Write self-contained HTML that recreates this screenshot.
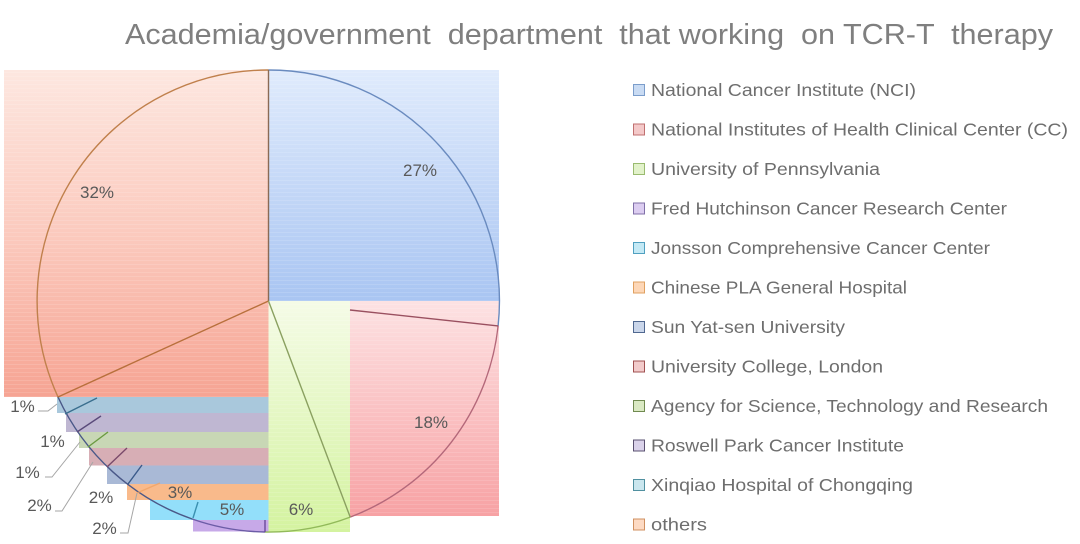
<!DOCTYPE html>
<html><head><meta charset="utf-8"><style>
html,body{margin:0;padding:0;background:#fff;}
svg{display:block;}
text{font-family:"Liberation Sans",sans-serif;white-space:pre;}
</style></head><body>
<svg width="1080" height="544" viewBox="0 0 1080 544" xmlns="http://www.w3.org/2000/svg">
<defs>
<linearGradient id="gBlue" x1="0" y1="0" x2="0" y2="1"><stop offset="0" stop-color="#e0ebfc"/><stop offset="1" stop-color="#a9c5f2"/></linearGradient>
<linearGradient id="gSal" x1="0" y1="0" x2="0" y2="1"><stop offset="0" stop-color="#fde7e0"/><stop offset="0.5" stop-color="#fbcabe"/><stop offset="1" stop-color="#f6a493"/></linearGradient>
<linearGradient id="gPink" x1="0" y1="0" x2="0" y2="1"><stop offset="0" stop-color="#fde2e3"/><stop offset="1" stop-color="#f7a2a4"/></linearGradient>
<linearGradient id="gGreen" x1="0" y1="0" x2="0" y2="1"><stop offset="0" stop-color="#f5fbe7"/><stop offset="1" stop-color="#d4f3a0"/></linearGradient>
<pattern id="stripes" width="8" height="4" patternUnits="userSpaceOnUse"><rect x="0" y="0" width="8" height="1" fill="#ffffff" opacity="0.12"/></pattern>
</defs>
<rect width="1080" height="544" fill="#fff"/>

<text x="125" y="44" font-size="28.5" fill="#7f7f7f" textLength="928" lengthAdjust="spacingAndGlyphs">Academia/government  department  that working  on TCR-T  therapy</text>

<rect x="4" y="70" width="264.5" height="327" fill="url(#gSal)"/>
<rect x="268.5" y="70" width="230.5" height="231" fill="url(#gBlue)"/>
<rect x="350" y="301" width="149" height="215" fill="url(#gPink)"/>
<rect x="268.5" y="301" width="81.5" height="231" fill="url(#gGreen)"/>
<rect x="4" y="70" width="495" height="462" fill="url(#stripes)"/>

<rect x="57" y="397" width="211.5" height="16" fill="#a9c8dc"/>
<rect x="66" y="413" width="202.5" height="19" fill="#bfb7d2"/>
<rect x="79" y="432" width="189.5" height="16" fill="#c8d7b5"/>
<rect x="89" y="448" width="179.5" height="17.5" fill="#d7aeb5"/>
<rect x="107" y="465.5" width="161.5" height="18.5" fill="#a9b9d6"/>
<rect x="127" y="484" width="141.5" height="16" fill="#f9ba8b"/>
<rect x="150" y="500" width="118.5" height="20" fill="#93dffa"/>
<rect x="193" y="520" width="75.5" height="11.5" fill="#c7a9e8"/>

<g fill="none" stroke-width="1.4">
<path d="M268.5,70 A231,231 0 0 1 498.1,325.9" stroke="#6a8bbf"/>
<path d="M498.1,325.9 A231,231 0 0 1 350.2,517.1" stroke="#b4687a"/>
<path d="M350.2,517.1 A231,231 0 0 1 265,532" stroke="#92ba5a"/>
<path d="M265,532 A231,231 0 0 1 192.5,519.1" stroke="#6c5ca6"/>
<path d="M192.5,519.1 A231,231 0 0 1 58,397" stroke="#4a5888"/>
<path d="M58,397 A231,231 0 0 1 268.5,70" stroke="#c0804c"/>
</g>

<g stroke-width="1.4" fill="none">
<line x1="268.5" y1="70" x2="268.5" y2="301" stroke="#8a6a55"/>
<line x1="268.5" y1="301" x2="58" y2="397" stroke="#b8703c"/>
<line x1="268.5" y1="301" x2="350.2" y2="517.1" stroke="#8aa060"/>
<line x1="350" y1="310" x2="498.1" y2="325.9" stroke="#9a5060"/>
<line x1="265" y1="520" x2="265" y2="532" stroke="#6a4a9a"/>
<line x1="193" y1="518" x2="198" y2="502" stroke="#3a90b0"/>
<line x1="137" y1="493" x2="160" y2="483" stroke="#f0a060" opacity="0.7"/>
<line x1="128" y1="484" x2="142" y2="465" stroke="#3a5a8a"/>
<line x1="107" y1="467" x2="127" y2="448" stroke="#7a4a6a"/>
<line x1="88" y1="447" x2="108" y2="432" stroke="#6a9a40"/>
<line x1="77" y1="432" x2="101" y2="416" stroke="#5a4a7a"/>
<line x1="65" y1="414" x2="97" y2="398" stroke="#3a6f8f"/>
</g>

<g stroke="#a6a6a6" stroke-width="1" fill="none">
<polyline points="38,411 48,411 57,404"/>
<polyline points="45,477 52,477 80,442"/>
<polyline points="55,511 62,511 93,462"/>
<polyline points="120,533 128,533 137,493"/>
</g>

<g font-size="17" fill="#595959" text-anchor="middle">
<text x="420" y="176">27%</text>
<text x="97" y="198">32%</text>
<text x="431" y="428">18%</text>
<text x="301" y="515">6%</text>
<text x="232" y="515">5%</text>
<text x="180" y="498">3%</text>
<text x="101" y="503">2%</text>
<text x="22.5" y="412">1%</text>
<text x="52.5" y="447">1%</text>
<text x="27.5" y="478">1%</text>
<text x="39.5" y="511">2%</text>
<text x="104.5" y="534">2%</text>
</g>

<g stroke-width="1">
<rect x="633.5" y="84.5" width="11" height="11" fill="#c9dbf3" stroke="#7b9dcb"/>
<rect x="633.5" y="124" width="11" height="11" fill="#f4c9c9" stroke="#c07070"/>
<rect x="633.5" y="163.5" width="11" height="11" fill="#e2f2ca" stroke="#9abb70"/>
<rect x="633.5" y="203" width="11" height="11" fill="#dccdf1" stroke="#8070a8"/>
<rect x="633.5" y="242.5" width="11" height="11" fill="#c4e9f5" stroke="#50a0c0"/>
<rect x="633.5" y="282" width="11" height="11" fill="#fdd7b7" stroke="#e0a060"/>
<rect x="633.5" y="321.5" width="11" height="11" fill="#cad6ea" stroke="#506890"/>
<rect x="633.5" y="361" width="11" height="11" fill="#f2cbcb" stroke="#a05050"/>
<rect x="633.5" y="400.5" width="11" height="11" fill="#dae9c3" stroke="#708a50"/>
<rect x="633.5" y="440" width="11" height="11" fill="#dad2ea" stroke="#5a5070"/>
<rect x="633.5" y="479.5" width="11" height="11" fill="#cae6ee" stroke="#5090a0"/>
<rect x="633.5" y="519" width="11" height="11" fill="#fddac3" stroke="#d09060"/>
</g>
<g font-size="17.5" fill="#6e6e6e">
<text x="651" y="96" textLength="265" lengthAdjust="spacingAndGlyphs">National Cancer Institute (NCI)</text>
<text x="651" y="135.5" textLength="417" lengthAdjust="spacingAndGlyphs">National Institutes of Health Clinical Center (CC)</text>
<text x="651" y="175" textLength="229" lengthAdjust="spacingAndGlyphs">University of Pennsylvania</text>
<text x="651" y="214.5" textLength="356" lengthAdjust="spacingAndGlyphs">Fred Hutchinson Cancer Research Center</text>
<text x="651" y="254" textLength="339" lengthAdjust="spacingAndGlyphs">Jonsson Comprehensive Cancer Center</text>
<text x="651" y="293.5" textLength="256" lengthAdjust="spacingAndGlyphs">Chinese PLA General Hospital</text>
<text x="651" y="333" textLength="194" lengthAdjust="spacingAndGlyphs">Sun Yat-sen University</text>
<text x="651" y="372.5" textLength="232" lengthAdjust="spacingAndGlyphs">University College, London</text>
<text x="651" y="412" textLength="397" lengthAdjust="spacingAndGlyphs">Agency for Science, Technology and Research</text>
<text x="651" y="451.5" textLength="253" lengthAdjust="spacingAndGlyphs">Roswell Park Cancer Institute</text>
<text x="651" y="491" textLength="262" lengthAdjust="spacingAndGlyphs">Xinqiao Hospital of Chongqing</text>
<text x="651" y="530.5" textLength="56" lengthAdjust="spacingAndGlyphs">others</text>
</g>
</svg>
</body></html>
